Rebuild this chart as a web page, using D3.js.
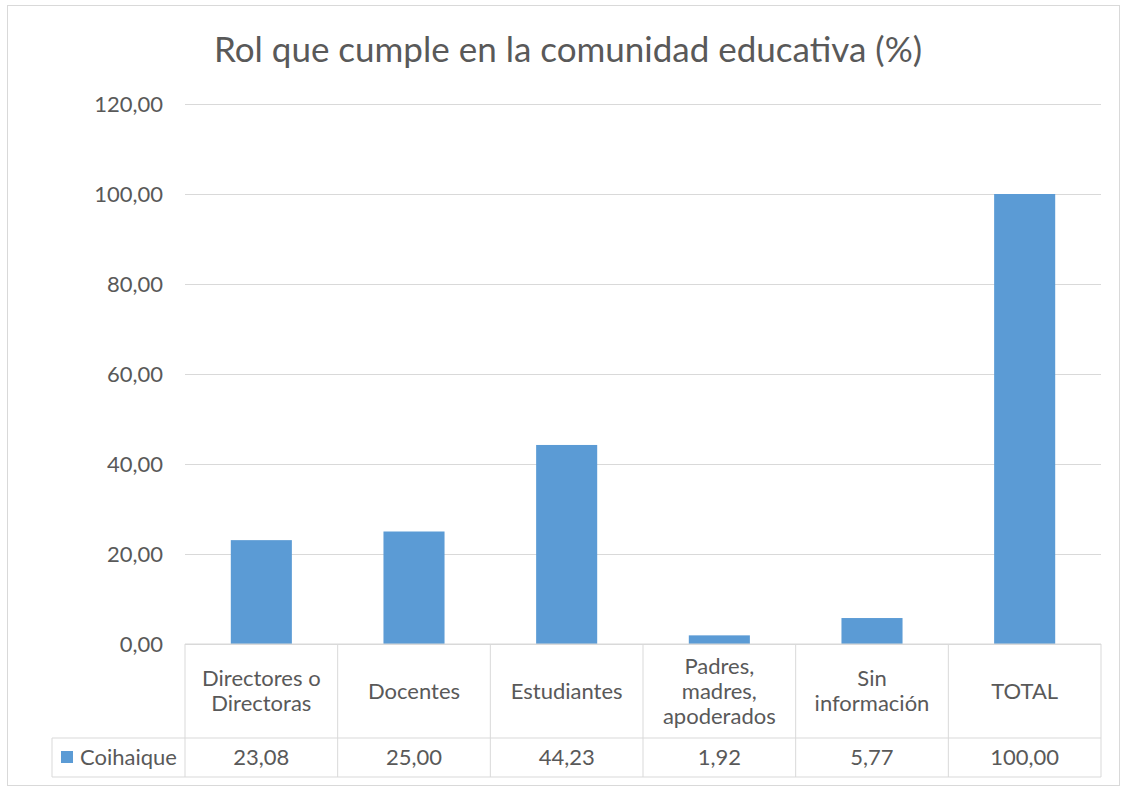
<!DOCTYPE html>
<html><head><meta charset="utf-8">
<script src="https://cdn.jsdelivr.net/npm/d3@7"></script>
<style>body{margin:0;background:#fff}svg{display:block}text{font-family:Lato,"Open Sans",sans-serif;fill:#595959}</style>
</head><body><svg id="c" width="1124" height="788"></svg>
<script>
const title = "Rol que cumple en la comunidad educativa (%)";
const categories = [["Directores o","Directoras"],["Docentes"],["Estudiantes"],["Padres,","madres,","apoderados"],["Sin","información"],["TOTAL"]];
const seriesName = "Coihaique";
const values = [23.08, 25.00, 44.23, 1.92, 5.77, 100.00];
const yTicks = [0,20,40,60,80,100,120];

const svg = d3.select("#c");
const fmt = v => d3.format(".2f")(v).replace(".", ",");
const L=185, R=1101, T=104, B=644, row1=738, row2=777, legL=52;
const fs = 22;
svg.append("rect").attr("x",7.5).attr("y",5.5).attr("width",1112).attr("height",780).attr("fill","#fff").attr("stroke","#d9d9d9");
const x = d3.scaleBand().domain(d3.range(categories.length)).range([L,R]).paddingInner(0.6).paddingOuter(0.3);
const xb = d3.scaleBand().domain(d3.range(categories.length)).range([L,R]);
const y = d3.scaleLinear().domain([0,120]).range([B,T]);

svg.append("text").attr("x",568).attr("y",62).attr("text-anchor","middle").style("font-size","35px").text(title);

const ya = svg.append("g").attr("transform",`translate(${L},0)`)
  .call(d3.axisLeft(y).tickValues(yTicks).tickFormat(fmt).tickSize(-(R-L)).tickPadding(22));
ya.select(".domain").remove();
ya.selectAll(".tick line").attr("stroke","#d9d9d9");
ya.selectAll(".tick text").style("font-size",fs+"px").attr("fill","#595959").style("font-family","Lato,sans-serif");

svg.selectAll(".bar").data(values).join("rect").attr("class","bar")
  .attr("x",(d,i)=>x(i)).attr("width",x.bandwidth())
  .attr("y",d=>y(d)).attr("height",d=>y(0)-y(d)).attr("fill","#5b9bd5");

// data table
const g = svg.append("g").attr("stroke","#d9d9d9").attr("fill","none");
g.append("line").attr("x1",L).attr("x2",R).attr("y1",B).attr("y2",B);
g.append("line").attr("x1",legL).attr("x2",R).attr("y1",row1).attr("y2",row1);
g.append("line").attr("x1",legL).attr("x2",R).attr("y1",row2).attr("y2",row2);
g.append("line").attr("x1",legL).attr("x2",legL).attr("y1",row1).attr("y2",row2);
d3.range(categories.length+1).forEach(i=>{
  const xx = i<categories.length ? xb(i) : R;
  g.append("line").attr("x1",xx).attr("x2",xx).attr("y1",B).attr("y2",row2);
});
categories.forEach((lines,i)=>{
  const cx = xb(i)+xb.bandwidth()/2, cy=(B+row1)/2, lh=25;
  lines.forEach((t,j)=>{
    svg.append("text").attr("x",cx).attr("y",cy+(j-(lines.length-1)/2)*lh).attr("dy","0.35em")
      .attr("text-anchor","middle").style("font-size",fs+"px").text(t);
  });
  svg.append("text").attr("x",cx).attr("y",(row1+row2)/2).attr("dy","0.35em")
    .attr("text-anchor","middle").style("font-size",fs+"px").text(fmt(values[i]));
});
svg.append("rect").attr("x",61).attr("y",751).attr("width",12).attr("height",12).attr("fill","#5b9bd5");
svg.append("text").attr("x",80).attr("y",(row1+row2)/2).attr("dy","0.35em").style("font-size",fs+"px").text(seriesName);
</script></body></html>
